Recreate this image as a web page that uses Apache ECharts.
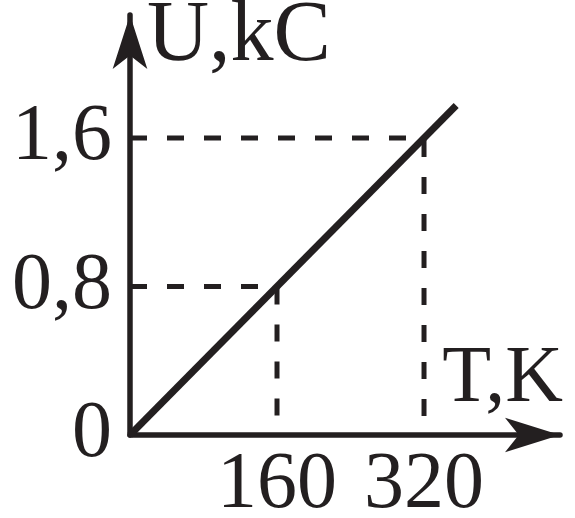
<!DOCTYPE html>
<html>
<head>
<meta charset="utf-8">
<script src="https://cdn.jsdelivr.net/npm/echarts@6/dist/echarts.min.js"></script>
<style>html,body{margin:0;padding:0;background:#fff;}#c{width:575px;height:518px;}</style>
</head>
<body>
<div id="c"></div>
<script>
// Data
const lineT = [0, 355];
const lineU = [0, 1.775];
const guideT = [160, 320];
const guideU = [0.8, 1.6];
const xTickValues = [160, 320];
const xTickLabels = ['160', '320'];
const yTickValues = [0, 0.8, 1.6];
const yTickLabels = ['0', '0,8', '1,6'];
const xName = 'T,K';
const yName = 'U,kC';

const ink = '#231f20';
const font = '"Liberation Serif", "Times New Roman", serif';

const mainData = lineT.map((t, i) => [t, lineU[i]]);
const guideSeries = guideT.map((t, i) => ({
  type: 'line',
  data: [[0, guideU[i]], [t, guideU[i]], [t, 0]],
  symbol: 'none',
  silent: true,
  z: 1,
  lineStyle: { color: ink, width: 5, type: [17, 20] }
}));

function findLabel(values, labels, v) {
  for (let i = 0; i < values.length; i++) {
    if (Math.abs(values[i] - v) < 1e-6) return labels[i];
  }
  return '';
}

const chart = echarts.init(document.getElementById('c'), null, { renderer: 'canvas' });
chart.setOption({
  backgroundColor: '#fff',
  animation: false,
  grid: { left: 130, right: 15, top: 15, bottom: 83, containLabel: false, outerBoundsMode: 'none' },
  xAxis: {
    type: 'value', min: 0, max: 468, interval: 160,
    name: xName, nameLocation: 'end', nameGap: 3,
    nameTextStyle: { fontFamily: font, fontSize: 80, color: ink, align: 'right', verticalAlign: 'bottom', padding: [0, 0, 15, 0] },
    axisLine: { show: true, symbol: ['none', 'arrow'], symbolSize: [26, 55], lineStyle: { color: ink, width: 5.5 } },
    axisTick: { show: false },
    splitLine: { show: false },
    axisLabel: {
      fontFamily: font, fontSize: 80, color: ink, margin: 11,
      formatter: v => findLabel(xTickValues, xTickLabels, v)
    }
  },
  yAxis: {
    type: 'value', min: 0, max: 2.263, interval: 0.8,
    name: yName, nameLocation: 'end', nameGap: 0,
    nameTextStyle: { fontFamily: font, fontSize: 86, color: ink, align: 'left', verticalAlign: 'top', padding: [-21, 0, 0, 17] },
    axisLine: { show: true, symbol: ['none', 'arrow'], symbolSize: [26, 54], lineStyle: { color: ink, width: 5.5 } },
    axisTick: { show: false },
    splitLine: { show: false },
    axisLabel: {
      fontFamily: font, fontSize: 80, color: ink, margin: 18, padding: [4, 0, 0, 0],
      formatter: v => findLabel(yTickValues, yTickLabels, v)
    }
  },
  series: guideSeries.concat([{
    type: 'line',
    data: mainData,
    symbol: 'none',
    silent: true,
    z: 3,
    lineStyle: { color: ink, width: 7 }
  }])
});
</script>
</body>
</html>
